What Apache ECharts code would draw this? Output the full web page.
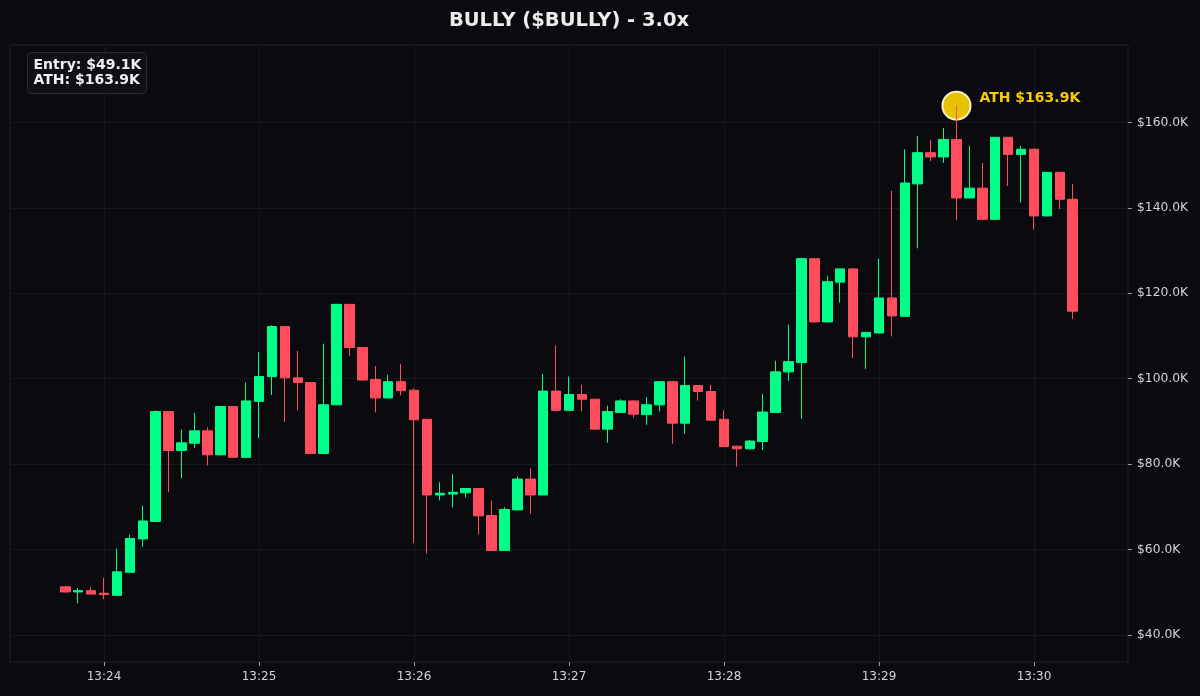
<!DOCTYPE html>
<html>
<head>
<meta charset="utf-8">
<script src="https://cdn.jsdelivr.net/npm/echarts@6/dist/echarts.min.js"></script>
<style>
html,body{margin:0;padding:0;background:#0b0b0f;}
#c{width:1200px;height:696px;}
</style>
</head>
<body>
<div id="c"></div>
<script>
const titleText = 'BULLY ($BULLY) - 3.0x';
const times = [
 '13:23:45','13:23:50','13:23:55',
 '13:24:00','13:24:05','13:24:10','13:24:15','13:24:20','13:24:25','13:24:30','13:24:35','13:24:40','13:24:45','13:24:50','13:24:55',
 '13:25:00','13:25:05','13:25:10','13:25:15','13:25:20','13:25:25','13:25:30','13:25:35','13:25:40','13:25:45','13:25:50','13:25:55',
 '13:26:00','13:26:05','13:26:10','13:26:15','13:26:20','13:26:25','13:26:30','13:26:35','13:26:40','13:26:45','13:26:50','13:26:55',
 '13:27:00','13:27:05','13:27:10','13:27:15','13:27:20','13:27:25','13:27:30','13:27:35','13:27:40','13:27:45','13:27:50','13:27:55',
 '13:28:00','13:28:05','13:28:10','13:28:15','13:28:20','13:28:25','13:28:30','13:28:35','13:28:40','13:28:45','13:28:50','13:28:55',
 '13:29:00','13:29:05','13:29:10','13:29:15','13:29:20','13:29:25','13:29:30','13:29:35','13:29:40','13:29:45','13:29:50','13:29:55',
 '13:30:00','13:30:05','13:30:10','13:30:15'
];
// values in $K
const opens = [51.3,50.1,50.4,49.8,49.3,54.7,62.5,66.6,92.3,83.2,84.9,87.8,82.2,93.5,81.6,94.7,100.5,112.2,100.2,99.1,82.5,93.9,117.4,107.3,99.8,95.5,99.3,97.3,90.5,72.8,73.0,73.3,74.3,68.0,59.8,69.3,76.5,72.8,97.1,92.6,96.3,95.2,88.2,92.1,94.8,91.6,93.9,99.3,89.6,98.4,97.0,90.5,84.2,83.6,85.3,92.1,101.6,103.8,128.1,113.3,122.6,125.7,109.8,110.7,118.9,114.6,145.6,152.9,151.9,156.0,142.3,144.6,137.3,156.5,152.5,153.7,138.1,148.3,142.0];
const closes = [50.1,50.4,49.6,49.5,54.8,62.6,66.7,92.3,83.2,85.0,87.8,82.2,93.5,81.6,94.8,100.5,112.2,100.2,99.1,82.5,93.9,117.4,107.3,99.7,95.5,99.3,97.2,90.4,72.8,73.2,73.4,74.3,67.9,59.8,69.4,76.5,72.8,97.1,92.6,96.3,95.2,88.2,92.3,94.8,91.7,93.9,99.3,89.6,98.4,97.0,90.3,84.1,83.6,85.4,92.2,101.6,104.0,128.1,113.3,122.7,125.7,109.8,110.8,118.9,114.7,145.8,152.9,151.9,156.0,142.3,144.6,137.3,156.5,152.5,153.7,138.1,148.3,142.0,115.8];
const lows = [49.9,47.4,49.6,48.4,49.3,54.7,60.7,66.6,73.4,76.7,83.8,79.7,82.0,81.5,81.5,86.1,96.2,89.9,92.6,82.4,82.4,93.8,105.4,99.6,92.1,95.4,96.1,61.6,59.1,71.5,69.9,72.2,63.5,59.7,59.7,69.2,68.4,72.7,92.3,92.5,92.4,88.1,85.0,92.0,90.9,89.2,92.4,84.8,87.1,94.9,90.2,84.0,79.4,83.5,83.3,92.0,99.5,90.6,113.2,113.2,117.8,104.8,102.3,110.6,109.9,114.5,130.5,150.9,150.5,137.1,142.2,137.1,137.2,145.1,141.2,134.9,138.0,139.7,114.0];
const highs = [51.4,51.0,51.2,53.4,60.2,63.5,70.3,92.6,92.4,88.1,92.0,88.6,93.6,93.6,99.1,106.2,112.5,112.3,106.5,99.2,108.2,117.5,117.5,107.4,103.0,100.9,103.5,97.7,90.6,75.8,77.7,74.4,74.4,71.5,69.9,77.1,79.0,101.1,107.8,100.5,98.5,95.3,93.7,95.2,94.9,95.7,99.4,99.4,105.2,98.5,98.6,92.6,84.3,85.7,96.4,104.2,112.6,128.3,128.2,124.0,125.8,125.8,111.0,128.1,144.0,153.7,156.8,155.9,158.7,163.9,154.5,150.5,156.6,156.6,154.5,153.8,148.4,148.4,145.6];
const xTickLabels = ['13:24','13:25','13:26','13:27','13:28','13:29','13:30'];
const yTickValues = [40,60,80,100,120,140,160];
const entryValue = 49.1;
const athValue = 163.9;
const athTime = '13:29:30';

function toSec(t){const p=t.split(':').map(Number);return (p[0]-13)*3600+p[1]*60+(p[2]||0);}
const xTicks = xTickLabels.map(toSec);
const candleData = times.map((t,i)=>[toSec(t),opens[i],closes[i],lows[i],highs[i]]);
const fmtK = v => '$' + v.toFixed(1) + 'K';
const labelFromSec = s => { const m = Math.round(s/60); return '13:' + String(m).padStart(2,'0'); };

const UP='#00ff88', DOWN='#ff4d5e';
const FONT='DejaVu Sans';
const chart = echarts.init(document.getElementById('c'), null, {renderer:'canvas'});
chart.setOption({
  backgroundColor:'#0b0b0f',
  animation:false,
  title:{text:titleText,left:564,textAlign:'center',top:6,
    textStyle:{color:'#ececec',fontSize:19.5,fontWeight:'bold',fontFamily:FONT}},
  grid:{left:10,right:72,top:45,bottom:34,show:true,borderColor:'#22222d',borderWidth:1,backgroundColor:'transparent'},
  xAxis:{type:'value',min:1403.6,max:1836.4,
    axisLine:{show:false},
    axisTick:{show:true,length:4,lineStyle:{color:'#9a9aa5'},customValues:xTicks},
    axisLabel:{color:'#d4d4d4',fontSize:12,fontFamily:FONT,margin:9,customValues:xTicks,formatter:v=>labelFromSec(v)},
    splitLine:{show:true,lineStyle:{color:'#17171f',width:1}}},
  yAxis:{type:'value',position:'right',min:33.7,max:178.1,scale:true,
    axisLine:{show:false},
    axisTick:{show:true,length:4,lineStyle:{color:'#9a9aa5'},customValues:yTickValues},
    axisLabel:{color:'#d4d4d4',fontSize:12.3,fontFamily:FONT,margin:9,customValues:yTickValues,formatter:v=>fmtK(v)},
    splitLine:{show:true,lineStyle:{color:'#17171f',width:1}}},
  series:[
    {type:'scatter',z:1,data:[[toSec(athTime),athValue]],symbolSize:28,
      itemStyle:{color:'#e6c200',borderColor:'#fbefc2',borderWidth:2,opacity:1},
      label:{show:true,position:'right',distance:8,offset:[0,-7],formatter:'ATH ' + fmtK(athValue),
        color:'#f7cc00',fontSize:14,fontWeight:'bold',fontFamily:FONT}},
    {type:'candlestick',z:3,barWidth:10,data:candleData,encode:{x:0,y:[1,2,3,4]},
      itemStyle:{color:UP,color0:DOWN,borderColor:UP,borderColor0:DOWN,borderWidth:1}}
  ],
  graphic:[{type:'group',left:27,top:52,z:100,children:[
    {type:'rect',z:100,shape:{x:0,y:0,width:119,height:41,r:4},style:{fill:'#0f0f16',stroke:'#2a2a38',lineWidth:1}},
    {type:'text',z:101,x:6,y:5,style:{text:'Entry: ' + fmtK(entryValue) + '\nATH: ' + fmtK(athValue),
      fill:'#f0f0f0',font:'bold 14px "DejaVu Sans"',lineHeight:15}}
  ]}]
});
</script>
</body>
</html>
